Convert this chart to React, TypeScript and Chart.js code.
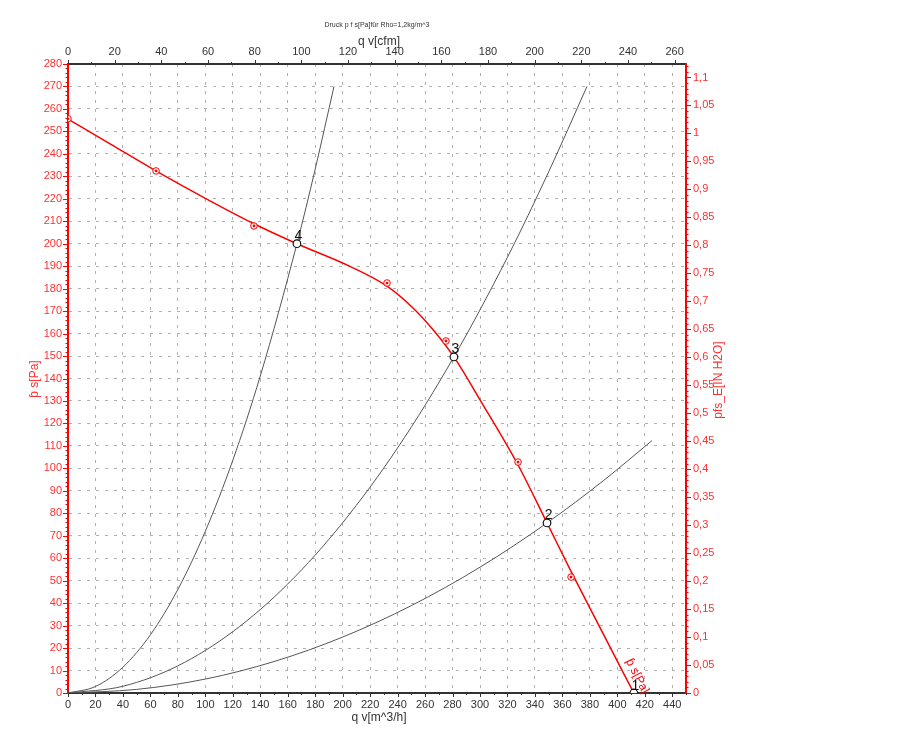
import React, { useEffect, useRef } from 'react';
import { Chart, registerables } from 'chart.js';

Chart.register(...registerables);

// ---- tick values ----
const flowTicks = [0, 20, 40, 60, 80, 100, 120, 140, 160, 180, 200, 220, 240, 260, 280, 300, 320, 340, 360, 380, 400, 420, 440];
const cfmTicks = [0, 20, 40, 60, 80, 100, 120, 140, 160, 180, 200, 220, 240, 260];
const paTicks = [0, 10, 20, 30, 40, 50, 60, 70, 80, 90, 100, 110, 120, 130, 140, 150, 160, 170, 180, 190, 200, 210, 220, 230, 240, 250, 260, 270, 280];
const inH2OTicks = [0, 0.05, 0.1, 0.15, 0.2, 0.25, 0.3, 0.35, 0.4, 0.45, 0.5, 0.55, 0.6, 0.65, 0.7, 0.75, 0.8, 0.85, 0.9, 0.95, 1, 1.05, 1.1];

// ---- fan curve (fitted line) ----
const fanFlow = [0, 30, 64, 100, 135, 166.7, 205, 232, 251.4, 266, 281, 300, 327.7, 348.8, 366, 390, 412];
const fanPressure = [255.5, 244.7, 232.4, 220.2, 209, 200, 190, 181.2, 171.3, 161.6, 149.6, 130.5, 101.5, 75.7, 54.5, 26, 0];

// ---- measured points ----
const measFlow = [0, 64.1, 135.4, 232.3, 275.2, 327.7, 366.3];
const measPressure = [255.6, 232.4, 207.9, 182.5, 156.7, 102.8, 51.6];

// ---- operating points ----
const opFlow = [412, 348.8, 281, 166.7];
const opPressure = [0, 75.7, 149.6, 200];
const opLabels = ['1', '2', '3', '4'];

// ---- system curves ----
const sysAFlow = [0, 20, 40, 60, 80, 100, 120, 140, 166.7, 180, 193.7];
const sysAPressure = [0, 2.9, 11.5, 25.9, 46.1, 72, 103.6, 141.1, 200, 233.2, 270];
const sysBFlow = [0, 40, 80, 120, 160, 200, 240, 281, 320, 350, 377.9];
const sysBPressure = [0, 3.0, 12.1, 27.3, 48.5, 75.8, 109.1, 149.6, 194, 232, 270];
const sysCFlow = [0, 50, 100, 150, 200, 250, 300, 348.8, 390, 425.3];
const sysCPressure = [0, 1.6, 6.2, 14, 24.9, 38.9, 56, 75.7, 94.6, 112.4];

const FLOW_MAX = 450;
const PA_MAX = 280;
const CFM_PER_M3H = 0.588578;
const PA_PER_INH2O = 249.089;

const RED = '#ff0000';
const RED_TEXT = '#ff3030';
const DARK = '#333333';
const FONT = '"Liberation Sans", Arial, sans-serif';

const zip = (xs: number[], ys: number[]) => xs.map((x, i) => ({ x, y: ys[i] }));

const decorPlugin = {
  id: 'decor',
  afterDraw(chart: any) {
    const ctx: CanvasRenderingContext2D = chart.ctx;
    const { left, right, top, bottom } = chart.chartArea;
    const sx = chart.scales.x;
    const sy = chart.scales.y;
    const sx2 = chart.scales.x2;
    const sy2 = chart.scales.y2;
    const seg = (x1: number, y1: number, x2: number, y2: number) => {
      ctx.beginPath();
      ctx.moveTo(x1, y1);
      ctx.lineTo(x2, y2);
      ctx.stroke();
    };
    ctx.save();
    ctx.lineWidth = 1;
    // left ticks
    ctx.strokeStyle = RED;
    for (let v = 0; v <= PA_MAX; v += 2) {
      const y = Math.round(sy.getPixelForValue(v)) + 0.5;
      const len = v % 10 === 0 ? 5 : 2.5;
      seg(left - len, y, left, y);
    }
    // right ticks
    for (let i = 0; i <= 112; i++) {
      const v = i / 100;
      const y = Math.round(sy2.getPixelForValue(v)) + 0.5;
      const len = i % 5 === 0 ? 5 : 2.5;
      seg(right, y, right + len, y);
    }
    // bottom ticks
    ctx.strokeStyle = DARK;
    for (let v = 0; v <= FLOW_MAX; v += 10) {
      const x = Math.round(sx.getPixelForValue(v)) + 0.5;
      const len = v % 20 === 0 ? 4 : 2;
      seg(x, bottom, x, bottom + len);
    }
    // top ticks
    for (let v = 0; v <= 264; v += 10) {
      const x = Math.round(sx2.getPixelForValue(v)) + 0.5;
      const len = v % 20 === 0 ? 4 : 2;
      seg(x, top - len, x, top);
    }

    // measured point centre dots
    ctx.fillStyle = RED;
    measFlow.forEach((q, i) => {
      const px = sx.getPixelForValue(q);
      const py = sy.getPixelForValue(measPressure[i]);
      if (px < left - 0.5) return;
      ctx.beginPath();
      ctx.arc(px, py, 1.4, 0, Math.PI * 2);
      ctx.fill();
    });

    // operating point labels
    ctx.fillStyle = '#111';
    ctx.font = `14px ${FONT}`;
    ctx.textAlign = 'center';
    ctx.textBaseline = 'alphabetic';
    opFlow.forEach((q, i) => {
      const px = sx.getPixelForValue(q);
      const py = sy.getPixelForValue(opPressure[i]);
      ctx.fillText(opLabels[i], px + 1.5, py - 3.5);
    });

    // titles
    ctx.fillStyle = DARK;
    ctx.textAlign = 'center';
    ctx.textBaseline = 'middle';
    ctx.font = `7px ${FONT}`;
    ctx.fillText('Druck p f s[Pa]für Rho=1,2kg/m^3', 377, 25);
    ctx.font = `12px ${FONT}`;
    ctx.fillText('q v[cfm]', 379, 42);
    ctx.fillText('q v[m^3/h]', 379, 718);

    ctx.fillStyle = RED_TEXT;
    ctx.save();
    ctx.translate(35, 379);
    ctx.rotate(-Math.PI / 2);
    ctx.fillText('ƥ s[Pa]', 0, 0);
    ctx.restore();

    ctx.save();
    ctx.translate(719, 380);
    ctx.rotate(-Math.PI / 2);
    ctx.fillText('pfs_E[IN H2O]', 0, 0);
    ctx.restore();

    // label along the fan curve
    ctx.save();
    ctx.fillStyle = RED;
    ctx.font = `12px ${FONT}`;
    ctx.translate(sx.getPixelForValue(414.5), sy.getPixelForValue(7.5));
    ctx.rotate((63 * Math.PI) / 180);
    ctx.fillText('ƥ s[Pa]', 0, 0);
    ctx.restore();

    ctx.restore();
  },
};

const fmtComma = (v: number) => {
  const r = Math.round(v * 100) / 100;
  return String(r).replace('.', ',');
};

export default function App() {
  const canvasRef = useRef<HTMLCanvasElement | null>(null);

  useEffect(() => {
    const canvas = canvasRef.current;
    if (!canvas) return;
    const tickFont = { size: 11, family: FONT };
    const chart = new Chart(canvas, {
      type: 'line',
      data: {
        datasets: [
          {
            label: 'sysA',
            data: zip(sysAFlow, sysAPressure),
            borderColor: '#555',
            borderWidth: 1,
            pointRadius: 0,
            cubicInterpolationMode: 'monotone',
            order: 4,
          },
          {
            label: 'sysB',
            data: zip(sysBFlow, sysBPressure),
            borderColor: '#555',
            borderWidth: 1,
            pointRadius: 0,
            cubicInterpolationMode: 'monotone',
            order: 4,
          },
          {
            label: 'sysC',
            data: zip(sysCFlow, sysCPressure),
            borderColor: '#555',
            borderWidth: 1,
            pointRadius: 0,
            cubicInterpolationMode: 'monotone',
            order: 4,
          },
          {
            label: 'fan',
            data: zip(fanFlow, fanPressure),
            borderColor: RED,
            borderWidth: 1.5,
            pointRadius: 0,
            cubicInterpolationMode: 'monotone',
            order: 3,
          },
          {
            label: 'meas',
            data: zip(measFlow, measPressure),
            showLine: false,
            pointRadius: 3.3,
            pointBorderWidth: 1,
            pointBorderColor: RED,
            pointBackgroundColor: 'rgba(255,255,255,0.9)',
            order: 2,
          },
          {
            label: 'op',
            data: zip(opFlow, opPressure),
            showLine: false,
            pointRadius: 3.8,
            pointBorderWidth: 1.2,
            pointBorderColor: '#111',
            pointBackgroundColor: '#ffffff',
            order: 1,
          },
        ],
      },
      options: {
        animation: false,
        responsive: false,
        devicePixelRatio: 1,
        layout: { padding: 0 },
        plugins: {
          legend: { display: false },
          tooltip: { enabled: false },
          title: { display: false },
        },
        scales: {
          x: {
            type: 'linear',
            position: 'bottom',
            min: 0,
            max: FLOW_MAX,
            afterBuildTicks: (s: any) => {
              s.ticks = flowTicks.map((v) => ({ value: v }));
            },
            afterFit: (s: any) => {
              s.height = 62;
            },
            grid: { color: '#b0b0b0', lineWidth: 1, drawTicks: false },
            border: { color: DARK, width: 2, dash: [3, 6] },
            ticks: { padding: 5, color: DARK, font: tickFont, maxRotation: 0, minRotation: 0, autoSkip: false },
          },
          x2: {
            type: 'linear',
            position: 'top',
            min: 0,
            max: FLOW_MAX * CFM_PER_M3H,
            afterBuildTicks: (s: any) => {
              s.ticks = cfmTicks.map((v) => ({ value: v }));
            },
            afterFit: (s: any) => {
              s.height = 64;
            },
            grid: { display: false, drawTicks: false },
            border: { color: DARK, width: 2 },
            ticks: { padding: 5, color: DARK, font: tickFont, maxRotation: 0, minRotation: 0, autoSkip: false },
          },
          y: {
            type: 'linear',
            position: 'left',
            min: 0,
            max: PA_MAX,
            afterBuildTicks: (s: any) => {
              s.ticks = paTicks.map((v) => ({ value: v }));
            },
            afterFit: (s: any) => {
              s.width = 68;
            },
            grid: { color: '#b0b0b0', lineWidth: 1, drawTicks: false },
            border: { color: RED, width: 2, dash: [3, 6] },
            ticks: { padding: 6, color: RED_TEXT, font: tickFont, autoSkip: false },
          },
          y2: {
            type: 'linear',
            position: 'right',
            min: 0,
            max: PA_MAX / PA_PER_INH2O,
            afterBuildTicks: (s: any) => {
              s.ticks = inH2OTicks.map((v) => ({ value: v }));
            },
            afterFit: (s: any) => {
              s.width = 236;
            },
            grid: { display: false, drawTicks: false },
            border: { color: RED, width: 2 },
            ticks: {
              padding: 7,
              color: RED_TEXT,
              font: tickFont,
              autoSkip: false,
              callback: (v: any) => fmtComma(Number(v)),
            },
          },
        },
      },
      plugins: [decorPlugin],
    } as any);
    return () => chart.destroy();
  }, []);

  return (
    <div style={{ position: 'fixed', left: 0, top: 0, width: 922, height: 755, background: '#fff' }}>
      <canvas ref={canvasRef} width={922} height={755} style={{ display: 'block' }} />
    </div>
  );
}
